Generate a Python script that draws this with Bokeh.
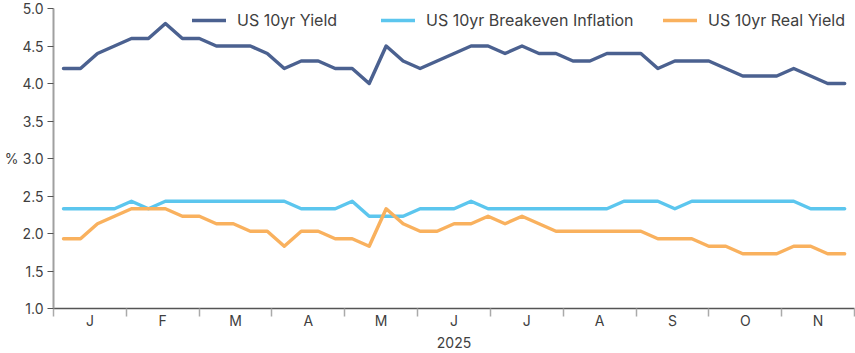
from bokeh.plotting import figure
from bokeh.models import Range1d, FixedTicker, NumeralTickFormatter, Legend, LegendItem, ColumnDataSource
from bokeh.embed import file_html
from bokeh.resources import INLINE

# ---- data ----
months = ["J", "F", "M", "A", "M", "J", "J", "A", "S", "O", "N"]
year_label = "2025"
unit_label = "%"
us10_yield = [4.2, 4.2, 4.4, 4.5, 4.6, 4.6, 4.8, 4.6, 4.6, 4.5,
              4.5, 4.5, 4.4, 4.2, 4.3, 4.3, 4.2, 4.2, 4.0, 4.5,
              4.3, 4.2, 4.3, 4.4, 4.5, 4.5, 4.4, 4.5, 4.4, 4.4,
              4.3, 4.3, 4.4, 4.4, 4.4, 4.2, 4.3, 4.3, 4.3, 4.2,
              4.1, 4.1, 4.1, 4.2, 4.1, 4.0, 4.0]
breakeven = [2.33, 2.33, 2.33, 2.33, 2.43, 2.33, 2.43, 2.43, 2.43, 2.43,
             2.43, 2.43, 2.43, 2.43, 2.33, 2.33, 2.33, 2.43, 2.23, 2.23,
             2.23, 2.33, 2.33, 2.33, 2.43, 2.33, 2.33, 2.33, 2.33, 2.33,
             2.33, 2.33, 2.33, 2.43, 2.43, 2.43, 2.33, 2.43, 2.43, 2.43,
             2.43, 2.43, 2.43, 2.43, 2.33, 2.33, 2.33]
real_yield = [1.93, 1.93, 2.13, 2.23, 2.33, 2.33, 2.33, 2.23, 2.23, 2.13,
              2.13, 2.03, 2.03, 1.83, 2.03, 2.03, 1.93, 1.93, 1.83, 2.33,
              2.13, 2.03, 2.03, 2.13, 2.13, 2.23, 2.13, 2.23, 2.13, 2.03,
              2.03, 2.03, 2.03, 2.03, 2.03, 1.93, 1.93, 1.93, 1.83, 1.83,
              1.73, 1.73, 1.73, 1.83, 1.83, 1.73, 1.73]
y_ticks = [1.0, 1.5, 2.0, 2.5, 3.0, 3.5, 4.0, 4.5, 5.0]
series_names = ["US 10yr Yield", "US 10yr Breakeven Inflation", "US 10yr Real Yield"]
colors = ["#4b6190", "#5cc6ee", "#f9b15e"]

week = list(range(len(us10_yield)))
src = ColumnDataSource(dict(week=week, y1=us10_yield, y2=breakeven, y3=real_yield))

x_start = -0.59
x_span = 47.17
x_end = x_start + x_span
mw = x_span / len(months)
boundaries = [x_start + k * mw for k in range(len(months) + 1)]
centers = [x_start + (k + 0.5) * mw for k in range(len(months))]

FONT = "Inter"
TXT = "#404040"

p = figure(width=855, height=353, output_backend="svg", toolbar_location=None,
           x_range=Range1d(x_start, x_end), y_range=Range1d(1.0, 5.0),
           min_border_left=53, min_border_right=1, min_border_top=8, min_border_bottom=45,
           x_axis_location="below")
p.outline_line_color = None
p.grid.visible = False
p.background_fill_color = "white"

renderers = []
for col, c in zip(["y1", "y2", "y3"], colors):
    r = p.line("week", col, source=src, line_color=c, line_width=3.5, line_join="round", line_cap="round")
    renderers.append(r)

# x axis
xa = p.xaxis[0]
xa.ticker = FixedTicker(ticks=centers, minor_ticks=boundaries)
xa.major_label_overrides = {c: m for c, m in zip(centers, months)}
xa.major_tick_line_color = None
xa.major_tick_out = 0
xa.major_tick_in = 0
xa.minor_tick_out = 8
xa.minor_tick_in = 0
xa.minor_tick_line_color = "#aaaaaa"
xa.minor_tick_line_width = 1.5
xa.axis_line_color = "#555555"
xa.axis_line_width = 1.5
xa.major_label_standoff = -5
xa.major_label_text_font = FONT
xa.major_label_text_font_size = "14px"
xa.major_label_text_color = TXT
xa.axis_label = year_label
xa.axis_label_standoff = 5
xa.axis_label_text_font = FONT
xa.axis_label_text_font_size = "14px"
xa.axis_label_text_font_style = "normal"
xa.axis_label_text_color = TXT

# y axis
ya = p.yaxis[0]
ya.ticker = FixedTicker(ticks=y_ticks)
ya.formatter = NumeralTickFormatter(format="0.0")
ya.minor_tick_line_color = None
ya.major_tick_out = 6
ya.major_tick_in = 0
ya.major_tick_line_color = "#555555"
ya.major_tick_line_width = 1.2
ya.axis_line_color = "#a0a0a0"
ya.axis_line_width = 2
ya.major_label_standoff = 4
ya.major_label_text_font = FONT
ya.major_label_text_font_size = "14px"
ya.major_label_text_color = TXT
ya.axis_label = unit_label
ya.axis_label_orientation = "horizontal"
ya.axis_label_standoff = 1
ya.axis_label_text_align = "right"
ya.axis_label_text_font = FONT
ya.axis_label_text_font_size = "14px"
ya.axis_label_text_font_style = "normal"
ya.axis_label_text_color = TXT

# legend: one legend per item, placed at the reference item positions
legend_x = [139, 328, 610]
for n, r, lx in zip(series_names, renderers, legend_x):
    lg = Legend(items=[LegendItem(label=n, renderers=[r])],
                orientation="horizontal", location=(lx, 278),
                border_line_color=None, background_fill_alpha=0,
                glyph_width=34, glyph_height=20, label_standoff=11,
                padding=1, margin=0,
                label_text_font=FONT, label_text_font_size="16px", label_text_color=TXT)
    p.add_layout(lg, "center")

open("out.html", "w").write(file_html(p, INLINE))
